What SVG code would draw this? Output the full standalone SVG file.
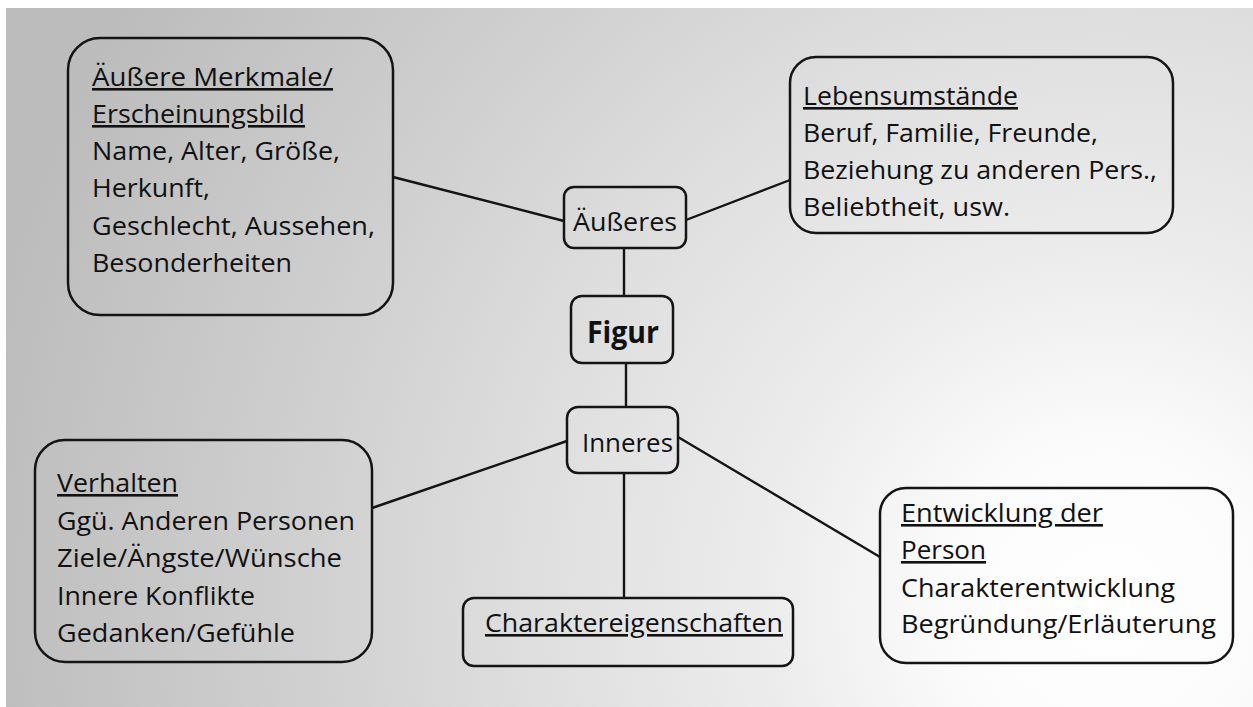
<svg xmlns="http://www.w3.org/2000/svg" width="1253" height="707" viewBox="0 0 1253 707">
<defs>
<radialGradient id="bg" gradientUnits="userSpaceOnUse" cx="1110" cy="600" r="1150">
<stop offset="0" stop-color="#ffffff"/>
<stop offset="0.14" stop-color="#fbfbfb"/>
<stop offset="0.3" stop-color="#ececec"/>
<stop offset="0.5" stop-color="#dfdfdf"/>
<stop offset="0.7" stop-color="#d0d0d0"/>
<stop offset="1" stop-color="#bcbcbc"/>
</radialGradient>
<style>
.box{fill:none;stroke:#141414;stroke-width:2.5}
.con{stroke:#141414;stroke-width:2.4;fill:none}
text{font-family:"Open Sans","Liberation Sans",sans-serif;font-size:26px;fill:#111111}
.u{text-decoration:underline}
.b{font-weight:bold;font-size:30px}
</style>
</defs>
<rect x="0" y="0" width="1253" height="707" fill="#ffffff"/>
<rect x="6" y="8" width="1247" height="699" fill="url(#bg)"/>
<g id="connectors">
<line class="con" x1="393" y1="177" x2="564" y2="221"/>
<line class="con" x1="686" y1="220" x2="790" y2="180"/>
<line class="con" x1="624" y1="248" x2="624" y2="296"/>
<line class="con" x1="626" y1="363" x2="626" y2="407"/>
<line class="con" x1="372" y1="508" x2="567" y2="441"/>
<line class="con" x1="678" y1="437" x2="880" y2="557"/>
<line class="con" x1="624" y1="473" x2="624" y2="598"/>
</g>
<g id="node-aeussere-merkmale">
<rect class="box" x="68" y="38" width="325" height="277" rx="32"/>
<text x="92" y="86" class="u" textLength="241" lengthAdjust="spacingAndGlyphs">Äußere Merkmale/</text>
<text x="92" y="123" class="u" textLength="213" lengthAdjust="spacingAndGlyphs">Erscheinungsbild</text>
<text x="92" y="160" textLength="248" lengthAdjust="spacingAndGlyphs">Name, Alter, Größe,</text>
<text x="92" y="197" textLength="118" lengthAdjust="spacingAndGlyphs">Herkunft,</text>
<text x="92" y="235" textLength="283" lengthAdjust="spacingAndGlyphs">Geschlecht, Aussehen,</text>
<text x="92" y="272" textLength="200" lengthAdjust="spacingAndGlyphs">Besonderheiten</text>
</g>
<g id="node-lebensumstaende">
<rect class="box" x="790" y="57" width="383" height="176" rx="26"/>
<text x="803" y="105" class="u" textLength="215" lengthAdjust="spacingAndGlyphs">Lebensumstände</text>
<text x="803" y="142" textLength="295" lengthAdjust="spacingAndGlyphs">Beruf, Familie, Freunde,</text>
<text x="803" y="179" textLength="354" lengthAdjust="spacingAndGlyphs">Beziehung zu anderen Pers.,</text>
<text x="803" y="216" textLength="207" lengthAdjust="spacingAndGlyphs">Beliebtheit, usw.</text>
</g>
<g id="node-aeusseres">
<rect class="box" x="564" y="187" width="122" height="61" rx="10"/>
<text x="573" y="231" textLength="104" lengthAdjust="spacingAndGlyphs">Äußeres</text>
</g>
<g id="node-figur">
<rect class="box" x="571" y="296" width="102" height="67" rx="11"/>
<text x="587" y="343" class="b" textLength="72" lengthAdjust="spacingAndGlyphs">Figur</text>
</g>
<g id="node-inneres">
<rect class="box" x="567" y="407" width="111" height="66" rx="11"/>
<text x="582" y="452" textLength="91" lengthAdjust="spacingAndGlyphs">Inneres</text>
</g>
<g id="node-verhalten">
<rect class="box" x="35" y="440" width="337" height="222" rx="30"/>
<text x="57" y="492" class="u" textLength="121" lengthAdjust="spacingAndGlyphs">Verhalten</text>
<text x="57" y="530" textLength="298" lengthAdjust="spacingAndGlyphs">Ggü. Anderen Personen</text>
<text x="57" y="567" textLength="285" lengthAdjust="spacingAndGlyphs">Ziele/Ängste/Wünsche</text>
<text x="57" y="605" textLength="198" lengthAdjust="spacingAndGlyphs">Innere Konflikte</text>
<text x="57" y="642" textLength="238" lengthAdjust="spacingAndGlyphs">Gedanken/Gefühle</text>
</g>
<g id="node-charaktereigenschaften">
<rect class="box" x="463" y="598" width="330" height="68" rx="11"/>
<text x="485" y="632" class="u" textLength="298" lengthAdjust="spacingAndGlyphs">Charaktereigenschaften</text>
</g>
<g id="node-entwicklung">
<rect class="box" x="880" y="488" width="353" height="175" rx="26"/>
<text x="901" y="522" class="u" textLength="202" lengthAdjust="spacingAndGlyphs">Entwicklung der</text>
<text x="901" y="559" class="u" textLength="85" lengthAdjust="spacingAndGlyphs">Person</text>
<text x="901" y="597" textLength="274" lengthAdjust="spacingAndGlyphs">Charakterentwicklung</text>
<text x="901" y="633" textLength="315" lengthAdjust="spacingAndGlyphs">Begründung/Erläuterung</text>
</g>
</svg>
